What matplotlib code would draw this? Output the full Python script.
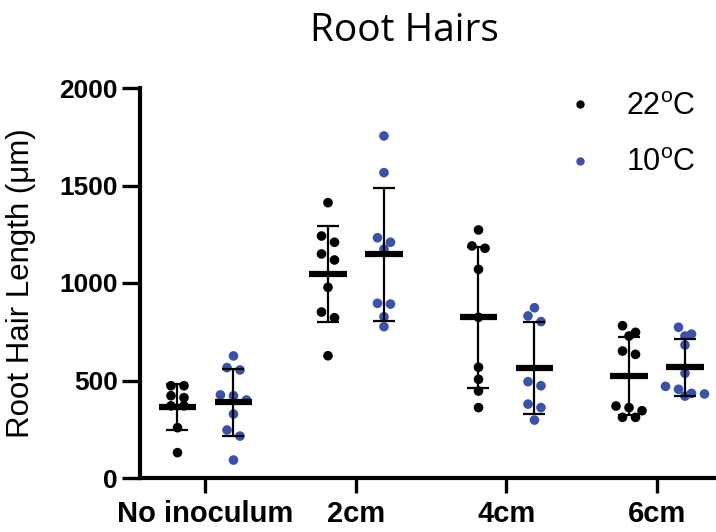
import matplotlib
matplotlib.use("Agg")
import matplotlib.pyplot as plt
import numpy as np
from matplotlib.lines import Line2D

# ---------------- data ----------------
categories = ["No inoculum", "2cm", "4cm", "6cm"]
series_names = ["22$^{\\mathrm{o}}$C", "10$^{\\mathrm{o}}$C"]

no_inoc_22 = [473, 473, 422, 412, 370, 370, 258, 130]
no_inoc_10 = [626, 566, 554, 426, 422, 400, 328, 246, 215, 92]
cm2_22 = [1412, 1241, 1209, 1149, 1118, 978, 851, 822, 627]
cm2_10 = [1754, 1566, 1232, 1209, 1174, 896, 892, 827, 776]
cm4_22 = [1272, 1190, 1178, 1070, 824, 568, 506, 446, 361]
cm4_10 = [873, 831, 802, 494, 473, 379, 361, 297]
cm6_22 = [781, 747, 728, 651, 634, 369, 361, 345, 311, 311]
cm6_10 = [773, 738, 728, 682, 537, 470, 455, 434, 431, 420]

series_22 = [no_inoc_22, cm2_22, cm4_22, cm6_22]
series_10 = [no_inoc_10, cm2_10, cm4_10, cm6_10]
y_ticks = [0, 500, 1000, 1500, 2000]

colors = ["#000000", "#3A52A8"]

plt.rcParams['font.family'] = ['Liberation Sans', 'DejaVu Sans']
plt.rcParams['mathtext.fontset'] = 'custom'
plt.rcParams['mathtext.rm'] = 'Liberation Sans'

W, H = 716, 532
fig = plt.figure(figsize=(W / 100, H / 100), dpi=100)
ax = fig.add_axes([140 / W, 54 / H, 576 / W, 390 / H])
ax.set_xlim(-0.435, 3.392)
ax.set_ylim(0, 2000)


def swarm(values, center, col_px=13.0, row_px=8.0):
    """Prism-like scatter: points whose values are close share a row and
    are spread symmetrically around the column centre."""
    p0 = ax.transData.transform((0, 0))
    p1 = ax.transData.transform((1, 1))
    px_x = p1[0] - p0[0]
    px_y = p1[1] - p0[1]
    values = np.asarray(values, dtype=float)
    order = list(np.argsort(-values, kind="stable"))
    xs = np.zeros(len(values))
    rows = []
    for i in order:
        if rows and abs(values[rows[-1][0]] - values[i]) * px_y < row_px:
            rows[-1].append(i)
        else:
            rows.append([i])
    for row in rows:
        n = len(row)
        for k, i in enumerate(row):
            xs[i] = center + (k - (n - 1) / 2) * col_px / px_x
    return xs


offset = 0.186
half_mean = 0.126
for s_idx, (series, col) in enumerate(zip([series_22, series_10], colors)):
    sign = -1 if s_idx == 0 else 1
    for ci, vals in enumerate(series):
        pos = ci + sign * offset
        xs = swarm(vals, pos)
        ax.scatter(xs, vals, s=48, color=col, edgecolors='none', zorder=3)
        m = np.mean(vals)
        sd = np.std(vals, ddof=1)
        ax.errorbar(pos, m, yerr=sd, fmt='none', ecolor='black',
                    elinewidth=1.6, capsize=8, capthick=1.6, zorder=4)
        ax.hlines(m, pos - half_mean, pos + half_mean, colors='black',
                  linewidth=4.5, zorder=5)

# axes styling
for sp in ['top', 'right']:
    ax.spines[sp].set_visible(False)
for sp in ['left', 'bottom']:
    ax.spines[sp].set_linewidth(3)

ax.set_xticks(range(len(categories)))
ax.set_xticklabels(categories)
ax.set_yticks(y_ticks)
ax.tick_params(axis='x', length=11, width=2.4, pad=5, labelsize=21)
ax.tick_params(axis='y', length=13, width=2.4, pad=3, labelsize=19)
for lab in ax.get_xticklabels() + ax.get_yticklabels():
    lab.set_fontweight('bold')

ax.set_ylabel("Root Hair Length (μm)", fontsize=22.5)
ax.yaxis.set_label_coords(-0.18, 0.5)

fig.text(404 / W, 1 - 31 / H, "Root Hairs", fontsize=28, family=['Open Sans', 'DejaVu Sans'],
         ha='center', va='center')

handles = [Line2D([], [], marker='o', ls='none', color=c, markersize=5) for c in colors]
ax.legend(handles, series_names, loc='upper left', bbox_to_anchor=(565 / W, 1 - 92 / H),
          bbox_transform=fig.transFigure, frameon=False, fontsize=22,
          handlelength=1.0, handletextpad=1.0, labelspacing=0.86, borderpad=0,
          borderaxespad=0)

fig.savefig("out.png", dpi=100)
